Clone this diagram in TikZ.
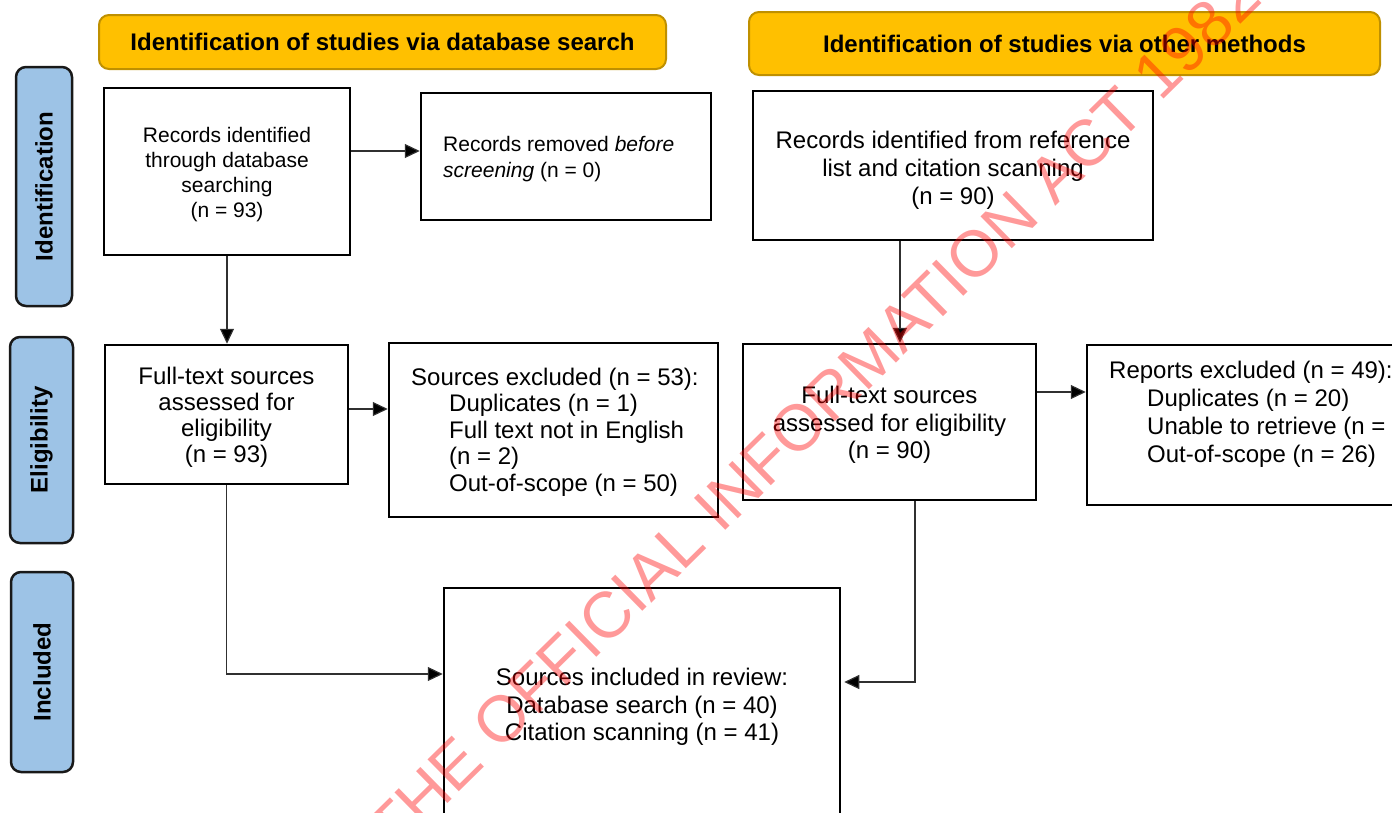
\documentclass[tikz,border=0pt]{standalone}
\usepackage{fontspec}
\setmainfont{Liberation Sans}
\usetikzlibrary{arrows.meta}
\definecolor{hdrfill}{HTML}{FFC000}
\definecolor{hdrdraw}{HTML}{BF9000}
\definecolor{labfill}{HTML}{9DC3E6}
\definecolor{linegray}{HTML}{303030}
\begin{document}
\begin{tikzpicture}[x=1pt,y=-1pt,
  box/.style={draw=black, line width=2.5pt, inner sep=0pt},
  hdr/.style={draw=hdrdraw, fill=hdrfill, line width=2pt, rounded corners=10pt, inner sep=0pt,
    font=\bfseries\fontsize{24}{28}\selectfont},
  lab/.style={draw=black!90, fill=labfill, line width=2.5pt, rounded corners=10pt, inner sep=0pt,
    rotate=90, font=\bfseries\fontsize{24}{28}\selectfont},
  ctxt/.style={inner sep=0pt, align=center},
  ltxt/.style={inner sep=0pt, align=left, anchor=west},
  conn/.style={draw=linegray, line width=1.2pt, -{Triangle[length=15pt,width=14pt,fill=black]}},
]
\path[use as bounding box] (0,0) rectangle (1392,812);
\clip (0,0) rectangle (1392,812);

% headers
\node[hdr, minimum width=567pt, minimum height=54pt] (hdr1) at (382.5,42) {Identification of studies via database search};
\node[hdr, minimum width=631pt, minimum height=63pt] (hdr2) at (1064.5,43.5) {Identification of studies via other methods};

% side labels
\node[lab, minimum width=239pt, minimum height=56pt] (lab1) at (44,186.5) {Identification};
\node[lab, minimum width=206pt, minimum height=63pt] (lab2) at (41.5,440) {Eligibility};
\node[lab, minimum width=200pt, minimum height=62pt] (lab3) at (42,672) {Included};

% boxes
\node[box, minimum width=246pt, minimum height=167pt] (a) at (227,171.5) {};
\node[ctxt, font=\fontsize{21}{25}\selectfont] (atxt) at (227,175)
  {Records identified\\through database\\searching\\(n = 93)};
\node[box, minimum width=290pt, minimum height=127pt] (b) at (566,156.5) {};
\node[ltxt, font=\fontsize{21}{26}\selectfont] (btxt) at (443,159)
  {Records removed \textit{before}\\\textit{screening} (n = 0)};
\node[box, minimum width=400pt, minimum height=149pt] (c) at (953,165.5) {};
\node[ctxt, font=\fontsize{24}{28}\selectfont] (ctx) at (953,170)
  {Records identified from reference\\list and citation scanning\\(n = 90)};
\node[box, minimum width=243pt, minimum height=139pt] (d) at (226.5,414.5) {};
\node[ctxt, font=\fontsize{24}{26}\selectfont] (dtxt) at (226.5,417)
  {Full-text sources\\assessed for\\eligibility\\(n = 93)};
\node[box, minimum width=329pt, minimum height=174pt] (e) at (553.5,430) {};
\node[ltxt, font=\fontsize{24}{26.5}\selectfont] (etxt) at (411,432)
  {Sources excluded (n = 53):\\\hspace*{38pt}Duplicates (n = 1)\\\hspace*{38pt}Full text not in English\\\hspace*{38pt}(n = 2)\\\hspace*{38pt}Out-of-scope (n = 50)};
\node[box, minimum width=293pt, minimum height=156pt] (f) at (889.5,422) {};
\node[ctxt, font=\fontsize{24}{27.5}\selectfont] (ftxt) at (889.5,425)
  {Full-text sources\\assessed for eligibility\\(n = 90)};
\node[box, minimum width=333pt, minimum height=160pt] (g) at (1253.5,425) {};
\node[ltxt, font=\fontsize{24}{28}\selectfont] (gtxt) at (1109,414.5)
  {Reports excluded (n = 49):\\\hspace*{38pt}Duplicates (n = 20)\\\hspace*{38pt}Unable to retrieve (n = 3)\\\hspace*{38pt}Out-of-scope (n = 26)};
\node[box, minimum width=396pt, minimum height=242pt] (h) at (642,709) {};
\node[ctxt, font=\fontsize{24}{27.5}\selectfont] (htxt) at (642,707)
  {Sources included in review:\\Database search (n = 40)\\Citation scanning (n = 41)};

% connectors
\coordinate (ab) at ([yshift=20.5pt]a.east);
\draw[conn] (ab) -- (ab -| b.west);
\draw[conn] (a.south) -- (a.south |- d.north);
\coordinate (de) at ([yshift=5.5pt]d.east);
\draw[conn] (de) -- (de -| e.west);
\coordinate (cf) at ([xshift=-53pt]c.south);
\draw[conn] (cf) -- (cf |- f.north);
\coordinate (fg) at ([yshift=30pt]f.east);
\draw[conn] (fg) -- (fg -| g.west);
\coordinate (hin) at ([yshift=35pt]h.west);
\draw[conn] (d.south) |- (hin);
\coordinate (fs) at ([xshift=25.5pt]f.south);
\coordinate (hout) at ([yshift=27pt]h.east);
\draw[conn, shorten >=3pt] (fs) |- (hout);

% watermark
\node[rotate=44.5, anchor=base, inner sep=0pt, text=red, text opacity=0.4,
  font=\fontsize{65}{65}\selectfont] (wm) at (610,644)
  {RELEASED UNDER THE OFFICIAL INFORMATION ACT 1982};
\end{tikzpicture}
\end{document}
